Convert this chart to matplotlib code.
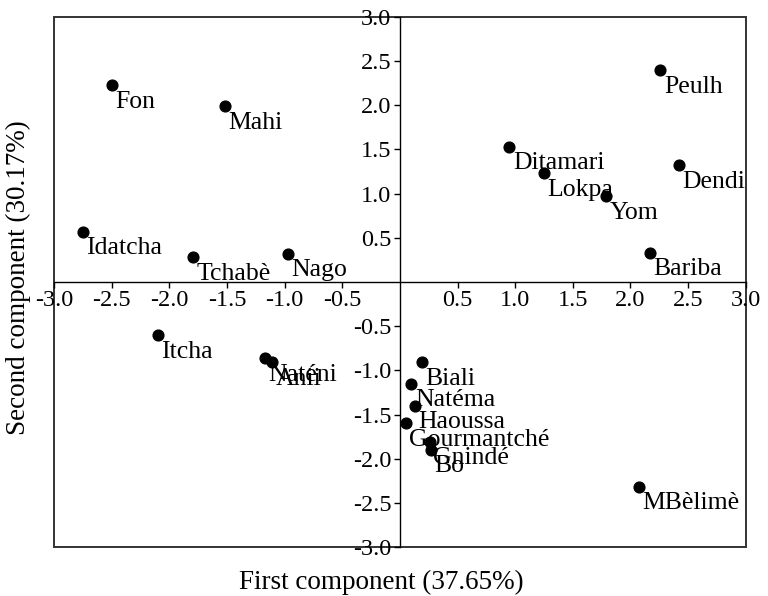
import numpy as np
import matplotlib.pyplot as plt
from matplotlib.patches import Rectangle

plt.rcParams['font.family'] = ['Liberation Serif', 'DejaVu Serif']

# ethnic groups and their scores on the first two components
groups = ["Fon", "Mahi", "Idatcha", "Tchabè", "Nago", "Itcha", "Naténi", "Anii",
          "Peulh", "Ditamari", "Lokpa", "Dendi", "Yom", "Bariba",
          "Biali", "Natéma", "Haoussa", "Gourmantché", "Gnindé", "Bo", "MBèlimè"]
comp1 = [-2.50, -1.52, -2.75, -1.79, -0.97, -2.10, -1.17, -1.11,
         2.26, 0.95, 1.25, 2.42, 1.79, 2.17,
         0.19, 0.10, 0.13, 0.05, 0.26, 0.27, 2.07]
comp2 = [2.23, 1.99, 0.57, 0.28, 0.32, -0.60, -0.86, -0.91,
         2.40, 1.53, 1.23, 1.32, 0.97, 0.33,
         -0.91, -1.15, -1.40, -1.60, -1.81, -1.90, -2.32]

ticks = [-3.0, -2.5, -2.0, -1.5, -1.0, -0.5, 0.5, 1.0, 1.5, 2.0, 2.5, 3.0]

fig = plt.figure(figsize=(7.68, 5.96), dpi=100)
ax = fig.add_axes([0.0703, 0.0822, 0.9007, 0.8893])

ax.scatter(comp1, comp2, s=60, color='black', zorder=3)
for name, x, y in zip(groups, comp1, comp2):
    ax.annotate(name, (x, y), xytext=(2.5, -4), textcoords='offset points',
                ha='left', va='top', fontsize=18.5)

ax.set_xlim(-3, 3)
ax.set_ylim(-3, 3)

# axes cross at the origin, outer frame drawn separately
ax.spines['left'].set_position(('data', 0))
ax.spines['bottom'].set_position(('data', 0))
ax.spines['top'].set_visible(False)
ax.spines['right'].set_visible(False)
for side in ['left', 'bottom']:
    ax.spines[side].set_linewidth(1.0)
ax.add_patch(Rectangle((0, 0), 1, 1, transform=ax.transAxes, fill=False,
                       lw=1.4, edgecolor='#333333', clip_on=False))

ax.set_xticks(ticks)
ax.set_yticks(ticks)
ax.set_xticklabels(["%.1f" % t for t in ticks])
ax.set_yticklabels(["%.1f" % t for t in ticks])
ax.tick_params(direction='out', length=4, width=1.0, labelsize=17.5, pad=2)

fig.text(0.497, 0.0235, "First component (37.65%)", ha='center', va='center', fontsize=19.5)
fig.text(0.008, 0.535, "Second component (30.17%)", ha='left', va='center',
         rotation=90, fontsize=19.5)

fig.savefig("out.png", dpi=100)
